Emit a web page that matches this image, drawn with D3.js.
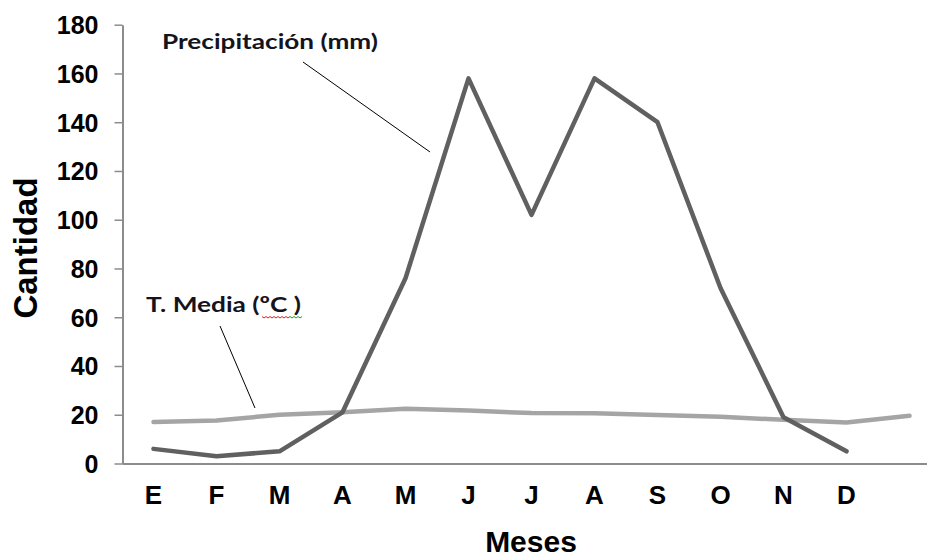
<!DOCTYPE html>
<html>
<head>
<meta charset="utf-8">
<script src="https://cdn.jsdelivr.net/npm/d3@7"></script>
<style>
  html, body { margin: 0; padding: 0; background: #fff; }
  svg { display: block; }
</style>
</head>
<body>
<svg id="chart" width="927" height="558"></svg>
<script>
// Monthly climate data: precipitation (mm) and mean temperature (ºC)
const months = ["E", "F", "M", "A", "M", "J", "J", "A", "S", "O", "N", "D", ""];
const precipitacion = [6, 3, 5, 21, 76, 158, 102, 158, 140, 72, 19, 5];
const temperatura = [17, 17.6, 20, 21, 22.5, 21.7, 20.7, 20.6, 19.9, 19.2, 17.9, 16.8, 19.6];
const yTicks = [0, 20, 40, 60, 80, 100, 120, 140, 160, 180];

const svg = d3.select("#chart");
const axisFont = "'Liberation Sans', Arial, sans-serif";

const x = d3.scaleBand()
  .domain(d3.range(months.length))
  .range([122, 122 + 63 * months.length])
  .paddingInner(0).paddingOuter(0);

const y = d3.scaleLinear().domain([0, 180]).range([463.5, 24.7]);

const cx = i => x(i) + x.bandwidth() / 2;

// Y axis
const yAxis = svg.append("g")
  .attr("transform", "translate(122.5,0)")
  .call(d3.axisLeft(y).tickValues(yTicks).tickSize(8).tickSizeOuter(0).tickPadding(16));
yAxis.select(".domain").attr("stroke", "#8c8c8c").attr("stroke-width", 2);
yAxis.selectAll(".tick line").attr("stroke", "#8c8c8c").attr("stroke-width", 1.5);
yAxis.selectAll(".tick text")
  .attr("fill", "#000")
  .style("font-family", axisFont)
  .style("font-weight", "bold")
  .style("font-size", "25px")
  .attr("dy", "0.36em");

// X axis
const xAxis = svg.append("g")
  .attr("transform", "translate(0,463.5)")
  .call(d3.axisBottom(x).tickFormat(i => months[i]).tickSize(0).tickSizeOuter(0).tickPadding(0));
xAxis.select(".domain").attr("stroke", "#8c8c8c").attr("stroke-width", 2);
xAxis.selectAll(".tick text")
  .attr("fill", "#000")
  .attr("y", 40)
  .attr("dy", null)
  .style("font-family", axisFont)
  .style("font-weight", "bold")
  .style("font-size", "26px");

// Axis titles
svg.append("text")
  .attr("x", 531).attr("y", 552)
  .attr("text-anchor", "middle")
  .style("font-family", axisFont)
  .style("font-weight", "bold")
  .style("font-size", "30px")
  .text("Meses");

svg.append("text")
  .attr("transform", "translate(37,248) rotate(-90)")
  .attr("text-anchor", "middle")
  .style("font-family", axisFont)
  .style("font-weight", "bold")
  .style("font-size", "33px")
  .text("Cantidad");

// Series lines
const line = d3.line().x((d, i) => cx(i)).y(d => y(d));

svg.append("path")
  .datum(temperatura)
  .attr("fill", "none")
  .attr("stroke", "#a5a5a5")
  .attr("stroke-width", 4.5)
  .attr("stroke-linejoin", "round")
  .attr("stroke-linecap", "round")
  .attr("d", line);

svg.append("path")
  .datum(precipitacion)
  .attr("fill", "none")
  .attr("stroke", "#606060")
  .attr("stroke-width", 4.5)
  .attr("stroke-linejoin", "round")
  .attr("stroke-linecap", "round")
  .attr("d", line);

// Series labels with leader lines
const labelFont = "Lato, 'Open Sans', sans-serif";

svg.append("text")
  .attr("x", 162).attr("y", 48.5)
  .attr("textLength", 216)
  .attr("lengthAdjust", "spacingAndGlyphs")
  .style("font-family", labelFont)
  .style("font-weight", "bold")
  .style("font-size", "21.5px")
  .attr("fill", "#141420")
  .text("Precipitación (mm)");

svg.append("line")
  .attr("x1", 303).attr("y1", 62).attr("x2", 430).attr("y2", 152)
  .attr("stroke", "#000").attr("stroke-width", 1);

svg.append("text")
  .attr("x", 146).attr("y", 311.5)
  .attr("textLength", 155)
  .attr("lengthAdjust", "spacingAndGlyphs")
  .style("font-family", labelFont)
  .style("font-weight", "bold")
  .style("font-size", "21.5px")
  .attr("fill", "#141420")
  .text("T. Media (ºC )");

svg.append("line")
  .attr("x1", 220).attr("y1", 326).attr("x2", 255).attr("y2", 408)
  .attr("stroke", "#000").attr("stroke-width", 1);

// Wavy proofing underline under "ºC"
const wave = (x0, x1, yy) => {
  let d = `M${x0},${yy}`;
  for (let xx = x0; xx < x1; xx += 4) d += ` l2,1.5 l2,-1.5`;
  return d;
};
svg.append("path").attr("d", wave(262, 290, 316.5))
  .attr("fill", "none").attr("stroke", "#e02020").attr("stroke-width", 1);
svg.append("path").attr("d", wave(290, 302, 316.5))
  .attr("fill", "none").attr("stroke", "#20a020").attr("stroke-width", 1);
</script>
</body>
</html>
